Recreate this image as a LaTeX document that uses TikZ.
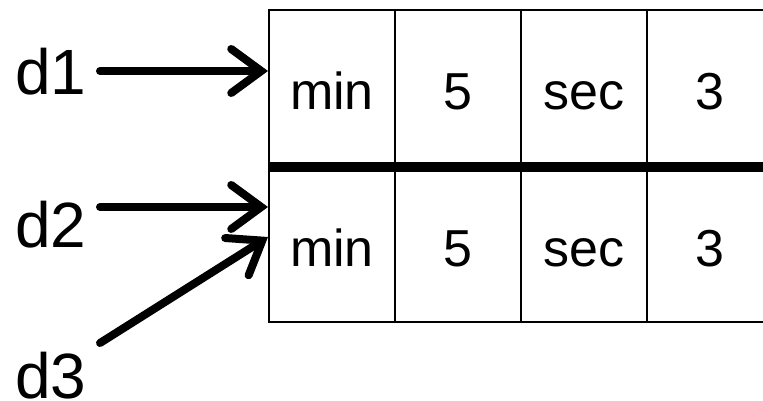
\documentclass[tikz,border=0pt]{standalone}
\usepackage{fontspec}
\setmainfont{Liberation Sans}
\usetikzlibrary{arrows.meta}
\begin{document}
\begin{tikzpicture}[x=1pt,y=-1pt,
  cell/.style={draw,line width=2pt,minimum width=126pt,minimum height=156pt,inner sep=0pt,text height=44pt,text depth=0pt,font=\fontsize{52}{60}\selectfont},
  lbl/.style={anchor=base west,inner sep=0pt,font=\fontsize{64}{70}\selectfont},
  ptr/.style={line width=8pt,line cap=round,-{Straight Barb[length=30pt,width=44pt,line cap=round]}},
  sep/.style={line width=10pt}]
\useasboundingbox (0,0) rectangle (763,401);
\begin{scope}
\clip (0,0) rectangle (763,401);
\node[cell] (c11) at (332,88) {min};
\node[cell] (c12) at (458,88) {5};
\node[cell] (c13) at (584,88) {sec};
\node[cell] (c14) at (710,88) {3};
\node[cell] (c21) at (332,244) {min};
\node[cell] (c22) at (458,244) {5};
\node[cell] (c23) at (584,244) {sec};
\node[cell] (c24) at (710,244) {3};
\draw[sep] (c11.south west) -- (c14.south east);
\end{scope}
\node[lbl] (d1) at (15,95) {d1};
\node[lbl] (d2) at (15,247) {d2};
\node[lbl] (d3) at (15,398) {d3};
\coordinate (s1) at (100,71);
\coordinate (s2) at (100,207);
\coordinate (s3) at (100,343);
\coordinate (t1) at (268,71);
\coordinate (t2) at (268,207);
\coordinate (t3) at (268,237);
\draw[ptr] (s1) -- (t1);
\draw[ptr] (s2) -- (t2);
\draw[ptr] (s3) -- (t3);
\end{tikzpicture}
\end{document}
